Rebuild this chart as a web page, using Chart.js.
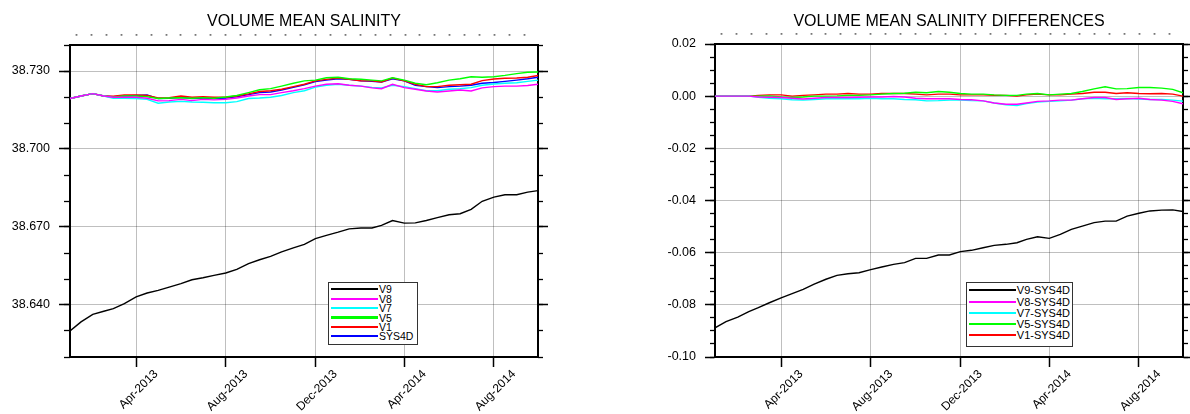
<!DOCTYPE html>
<html>
<head>
<meta charset="utf-8">
<script src="https://cdn.jsdelivr.net/npm/chart.js@4.4.1/dist/chart.umd.min.js"></script>
<style>
  html, body { margin: 0; padding: 0; background: #fff; overflow: hidden; }
  body { width: 1190px; height: 414px; position: relative; font-family: "Liberation Sans", Arial, sans-serif; }
  canvas { position: absolute; top: 0; }
  #chartMean { left: 0; }
  #chartDiff { left: 600px; }
  .legend { position: absolute; box-sizing: border-box; background: #fff; border: 1.5px solid #333; color: #000; }
  .legend .row { display: flex; align-items: center; white-space: nowrap; }
  .legend .swatch { display: block; }
  #legendMean { left: 328px; top: 282px; width: 90px; height: 63px; padding: 1.4px 2px; font-size: 10.5px; }
  #legendMean .row { height: 9.47px; }
  #legendMean .swatch { width: 47px; flex: none; margin-right: 1px; }
  #legendDiff { left: 966px; top: 282px; width: 107px; height: 65px; padding: 1.9px 2px; font-size: 11px; }
  #legendDiff .row { height: 11.2px; }
  #legendDiff .swatch { flex: 1; margin-right: 1px; }
</style>
</head>
<body>
<canvas id="chartMean" width="600" height="414"></canvas>
<canvas id="chartDiff" width="590" height="414"></canvas>
<div id="legendMean" class="legend"></div>
<div id="legendDiff" class="legend"></div>

<script>
"use strict";

// sample dates (semi-monthly reading of the curves)
const dates = [
  "2013-01-01","2013-01-16","2013-02-01","2013-02-16","2013-03-01","2013-03-16",
  "2013-04-01","2013-04-16","2013-05-01","2013-05-16","2013-06-01","2013-06-16",
  "2013-07-01","2013-07-16","2013-08-01","2013-08-16","2013-09-01","2013-09-16",
  "2013-10-01","2013-10-16","2013-11-01","2013-11-16","2013-12-01","2013-12-16",
  "2014-01-01","2014-01-16","2014-02-01","2014-02-16","2014-03-01","2014-03-16",
  "2014-04-01","2014-04-16","2014-05-01","2014-05-16","2014-06-01","2014-06-16",
  "2014-07-01","2014-07-16","2014-08-01","2014-08-16","2014-09-01","2014-09-16",
  "2014-09-30"
];

const axisStart = "2013-01-01";
const axisEnd = "2014-09-30";
const tickDates = ["2013-04-01", "2013-08-01", "2013-12-01", "2014-04-01", "2014-08-01"];
const tickLabels = ["Apr-2013", "Aug-2013", "Dec-2013", "Apr-2014", "Aug-2014"];

// left panel: volume mean salinity
const meanV9 = [38.6300,38.6335,38.6364,38.6376,38.6386,38.6405,38.6431,38.6446,38.6456,38.6469,
  38.6482,38.6497,38.6505,38.6514,38.6523,38.6537,38.6559,38.6574,38.6587,38.6604,
  38.6620,38.6633,38.6655,38.6668,38.6680,38.6693,38.6696,38.6696,38.6706,38.6725,
  38.6715,38.6716,38.6725,38.6736,38.6747,38.6751,38.6768,38.6799,38.6815,38.6824,
  38.6824,38.6834,38.6840];
const meanV8 = [38.7194,38.7204,38.7213,38.7204,38.7199,38.7199,38.7199,38.7195,38.7185,38.7186,
  38.7191,38.7186,38.7191,38.7189,38.7191,38.7196,38.7204,38.7209,38.7209,38.7217,
  38.7224,38.7232,38.7242,38.7249,38.7251,38.7245,38.7242,38.7235,38.7232,38.7249,
  38.7236,38.7230,38.7223,38.7219,38.7223,38.7227,38.7223,38.7235,38.7240,38.7242,
  38.7242,38.7244,38.7249];
const meanV7 = [38.7194,38.7204,38.7213,38.7204,38.7195,38.7195,38.7194,38.7191,38.7176,38.7181,
  38.7183,38.7181,38.7180,38.7178,38.7178,38.7182,38.7194,38.7196,38.7199,38.7206,
  38.7217,38.7224,38.7238,38.7245,38.7249,38.7245,38.7242,38.7237,38.7235,38.7245,
  38.7240,38.7232,38.7224,38.7224,38.7230,38.7232,38.7236,38.7245,38.7250,38.7253,
  38.7255,38.7260,38.7265];
const meanV5 = [38.7194,38.7204,38.7213,38.7204,38.7200,38.7204,38.7204,38.7201,38.7194,38.7196,
  38.7197,38.7195,38.7197,38.7195,38.7200,38.7206,38.7217,38.7228,38.7232,38.7242,
  38.7253,38.7262,38.7265,38.7274,38.7276,38.7270,38.7268,38.7265,38.7262,38.7274,
  38.7265,38.7253,38.7247,38.7255,38.7265,38.7270,38.7278,38.7276,38.7278,38.7283,
  38.7290,38.7295,38.7296];
const meanV1 = [38.7194,38.7204,38.7213,38.7204,38.7203,38.7208,38.7208,38.7206,38.7196,38.7197,
  38.7204,38.7199,38.7201,38.7199,38.7199,38.7204,38.7212,38.7221,38.7224,38.7230,
  38.7240,38.7249,38.7262,38.7268,38.7273,38.7268,38.7262,38.7262,38.7258,38.7273,
  38.7262,38.7249,38.7240,38.7240,38.7245,38.7247,38.7249,38.7263,38.7269,38.7272,
  38.7273,38.7276,38.7283];
const meanSYS4D = [38.7194,38.7204,38.7213,38.7204,38.7201,38.7204,38.7206,38.7208,38.7194,38.7195,
  38.7199,38.7194,38.7196,38.7194,38.7196,38.7201,38.7209,38.7217,38.7219,38.7227,
  38.7237,38.7247,38.7259,38.7265,38.7270,38.7268,38.7262,38.7260,38.7258,38.7270,
  38.7262,38.7245,38.7240,38.7236,38.7240,38.7242,38.7245,38.7253,38.7256,38.7260,
  38.7265,38.7270,38.7276];

// right panel: differences to SYS4D
const diffV9 = [-0.0888,-0.0864,-0.0847,-0.0826,-0.0811,-0.0792,-0.0773,-0.0757,-0.0741,-0.0721,
  -0.0702,-0.0687,-0.0681,-0.0677,-0.0665,-0.0655,-0.0645,-0.0638,-0.0622,-0.0622,
  -0.0609,-0.0609,-0.0596,-0.0591,-0.0581,-0.0572,-0.0568,-0.0562,-0.0549,-0.0539,
  -0.0545,-0.0530,-0.0511,-0.0498,-0.0485,-0.0479,-0.0479,-0.0460,-0.0449,-0.0440,
  -0.0437,-0.0436,-0.0442];
const diffV8 = [0,0,0,0,-0.0003,-0.0004,-0.0005,-0.0008,-0.0011,-0.0008,
  -0.0005,-0.0005,-0.0005,-0.0004,-0.0003,-0.0003,-0.0001,-0.0003,-0.0008,-0.0010,
  -0.0010,-0.0010,-0.0013,-0.0014,-0.0018,-0.0026,-0.0031,-0.0031,-0.0026,-0.0020,
  -0.0018,-0.0015,-0.0015,-0.0010,-0.0005,-0.0005,-0.0013,-0.0010,-0.0008,-0.0013,
  -0.0015,-0.0020,-0.0029];
const diffV7 = [0,0,0,0,-0.0004,-0.0008,-0.0010,-0.0014,-0.0015,-0.0013,
  -0.0010,-0.0010,-0.0010,-0.0010,-0.0008,-0.0010,-0.0010,-0.0013,-0.0014,-0.0018,
  -0.0017,-0.0015,-0.0015,-0.0017,-0.0018,-0.0026,-0.0033,-0.0036,-0.0028,-0.0023,
  -0.0020,-0.0018,-0.0015,-0.0010,-0.0008,-0.0010,-0.0010,-0.0009,-0.0011,-0.0013,
  -0.0013,-0.0015,-0.0019];
const diffV5 = [0,0,0,0,0,0.0001,-0.0003,-0.0005,-0.0003,0,
  0,0.0001,0.0003,0.0003,0.0005,0.0008,0.0010,0.0011,0.0015,0.0013,
  0.0018,0.0015,0.0010,0.0008,0.0008,0.0005,0.0003,0.0003,0.0008,0.0010,
  0.0005,0.0008,0.0010,0.0018,0.0028,0.0036,0.0028,0.0029,0.0033,0.0033,
  0.0031,0.0026,0.0013];
const diffV1 = [0,0,0,0,0.0003,0.0005,0.0005,0,0.0003,0.0005,
  0.0008,0.0008,0.0010,0.0008,0.0008,0.0010,0.0010,0.0010,0.0008,0.0005,
  0.0008,0.0008,0.0005,0.0005,0.0005,0.0003,0.0003,0,0.0005,0.0008,
  0.0005,0.0005,0.0008,0.0010,0.0015,0.0015,0.0010,0.0013,0.0010,0.0009,
  0.0010,0.0008,0];

const meanMajorTicks = [38.64, 38.67, 38.70, 38.73];
const meanMinorTicks = [38.62, 38.63, 38.64, 38.65, 38.66, 38.67, 38.68, 38.69, 38.70, 38.71, 38.72, 38.73, 38.74];
const diffMajorTicks = [-0.10, -0.08, -0.06, -0.04, -0.02, 0.00, 0.02];
const diffMinorTicks = [-0.100, -0.095, -0.090, -0.085, -0.080, -0.075, -0.070, -0.065, -0.060,
  -0.055, -0.050, -0.045, -0.040, -0.035, -0.030, -0.025, -0.020, -0.015, -0.010, -0.005,
  0.000, 0.005, 0.010, 0.015, 0.020];

const GRID = "rgba(0,0,0,0.25)";

Chart.defaults.font.family = '"Liberation Sans", Arial, Helvetica, sans-serif';
Chart.defaults.color = "#000";

const dayOf = s => (Date.parse(s + "T00:00:00Z") - Date.parse(axisStart + "T00:00:00Z")) / 86400000;
const days = dates.map(dayOf);
const lastDay = dayOf(axisEnd);
const tickDays = tickDates.map(dayOf);

// small dots above the frame, six per four-month interval
const dotDays = [];
const dotStep = (tickDays[1] - tickDays[0]) / 6;
for (let d = tickDays[0] - 4 * dotStep; d <= lastDay; d += dotStep) dotDays.push(d);

const toPoints = vals => days.map((d, i) => ({ x: d, y: vals[i] }));

const htmlLegend = {
  id: "htmlLegend",
  afterUpdate(chart, args, opts) {
    const box = document.getElementById(opts.containerID);
    box.innerHTML = "";
    chart.data.datasets.forEach(ds => {
      const row = document.createElement("div");
      row.className = "row";
      const sw = document.createElement("div");
      sw.className = "swatch";
      sw.style.height = `${ds.legendLine || 2}px`;
      sw.style.backgroundColor = ds.borderColor;
      const txt = document.createElement("span");
      txt.textContent = ds.label;
      row.appendChild(sw);
      row.appendChild(txt);
      box.appendChild(row);
    });
  }
};

function buildScales(p) {
  const setTicks = list => s => { s.ticks = list.map(v => ({ value: v })); };
  return {
    x: {
      type: "linear", position: "bottom", min: 0, max: lastDay,
      afterBuildTicks: setTicks(tickDays),
      afterFit: s => { s.height = 57; },
      grid: { color: GRID, tickColor: "#000", tickLength: 10, tickWidth: 1.5 },
      border: { color: "#000", width: 2 },
      ticks: {
        autoSkip: false, minRotation: 45, maxRotation: 45, padding: 0, labelOffset: 20,
        font: { size: 12 }, callback: (v, i) => tickLabels[i]
      }
    },
    xTop: {
      type: "linear", position: "top", min: 0, max: lastDay,
      afterBuildTicks: setTicks(dotDays),
      afterFit: s => { s.height = 11; },
      grid: { drawOnChartArea: false, tickLength: 11, tickColor: "#777", tickWidth: 1.8, tickBorderDash: [1.8, 40] },
      border: { color: "#000", width: 2 },
      ticks: { display: false }
    },
    y: {
      position: "left", weight: 1, min: p.min, max: p.max,
      afterBuildTicks: setTicks(p.major),
      afterFit: s => { s.width = p.left; },
      grid: { color: GRID, tickColor: "#000", tickLength: p.majorLen, tickWidth: 1.5 },
      border: { color: "#000", width: 2 },
      ticks: { autoSkip: false, padding: 9, font: { size: 12.5 }, callback: v => v.toFixed(p.decimals) }
    },
    yMinor: {
      position: "left", weight: 0, min: p.min, max: p.max,
      afterBuildTicks: setTicks(p.minor),
      afterFit: s => { s.width = 0; },
      grid: { drawOnChartArea: false, tickColor: "#000", tickLength: p.minorLen, tickWidth: 1.3 },
      border: { display: false },
      ticks: { display: false }
    },
    yRight: {
      position: "right", weight: 1, min: p.min, max: p.max,
      afterBuildTicks: setTicks(p.major),
      afterFit: s => { s.width = p.right; },
      grid: { drawOnChartArea: false, tickColor: "#000", tickLength: p.right, tickWidth: 1.5 },
      border: { color: "#000", width: 2 },
      ticks: { display: false }
    },
    yRightMinor: {
      position: "right", weight: 0, min: p.min, max: p.max,
      afterBuildTicks: setTicks(p.minor),
      afterFit: s => { s.width = 0; },
      grid: { drawOnChartArea: false, tickColor: "#000", tickLength: 5, tickWidth: 1.3 },
      border: { display: false },
      ticks: { display: false }
    }
  };
}

function line(label, vals, color, legendLine) {
  return {
    label, data: toPoints(vals), borderColor: color, backgroundColor: color,
    borderWidth: 1.4, pointRadius: 0, tension: 0, legendLine,
    xAxisID: "x", yAxisID: "y"
  };
}

function makeChart(id, title, datasets, scaleOpts, padRight, titlePadBottom, legendID) {
  return new Chart(document.getElementById(id), {
    type: "line",
    data: { datasets },
    options: {
      responsive: false,
      animation: false,
      events: [],
      layout: { padding: { left: 0, right: padRight, top: 0, bottom: 0 } },
      plugins: {
        legend: { display: false },
        tooltip: { enabled: false },
        title: {
          display: true, text: title, fullSize: false,
          font: { size: 16, weight: "normal" }, color: "#000",
          padding: { top: 12, bottom: titlePadBottom }
        },
        htmlLegend: { containerID: legendID }
      },
      scales: buildScales(scaleOpts)
    },
    plugins: [htmlLegend]
  });
}

makeChart("chartMean", "VOLUME MEAN SALINITY", [
  line("V9", meanV9, "#000000", 2),
  line("V8", meanV8, "#ff00ff", 2),
  line("V7", meanV7, "#00ffff", 2),
  line("V5", meanV5, "#00ff00", 3),
  line("V1", meanV1, "#ff0000", 2),
  line("SYS4D", meanSYS4D, "#0000ff", 2)
], {
  min: 38.62, max: 38.74, major: meanMajorTicks, minor: meanMinorTicks, decimals: 3,
  left: 70, right: 10, majorLen: 11, minorLen: 6
}, 52, 2.8, "legendMean");

makeChart("chartDiff", "VOLUME MEAN SALINITY DIFFERENCES", [
  line("V9-SYS4D", diffV9, "#000000", 2),
  line("V8-SYS4D", diffV8, "#ff00ff", 2),
  line("V7-SYS4D", diffV7, "#00ffff", 2),
  line("V5-SYS4D", diffV5, "#00ff00", 2),
  line("V1-SYS4D", diffV1, "#ff0000", 2)
], {
  min: -0.10, max: 0.02, major: diffMajorTicks, minor: diffMinorTicks, decimals: 2,
  left: 115, right: 7, majorLen: 10, minorLen: 5
}, 0, 1.8, "legendDiff");
</script>
</body>
</html>
